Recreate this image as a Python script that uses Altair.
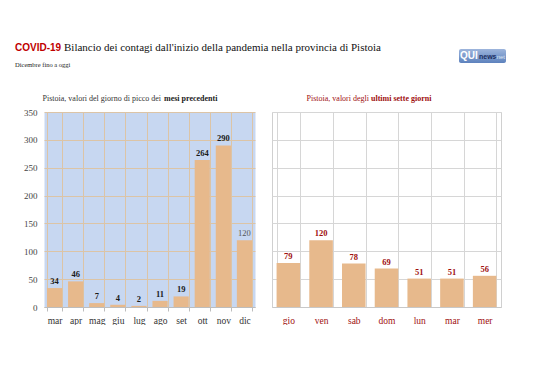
import altair as alt
import pandas as pd

# ---- data ----
mesi = ["mar", "apr", "mag", "giu", "lug", "ago", "set", "ott", "nov", "dic"]
picchi = [34, 46, 7, 4, 2, 11, 19, 264, 290, 120]
giorni = ["gio", "ven", "sab", "dom", "lun", "mar", "mer"]
casi = [79, 120, 78, 69, 51, 51, 56]
y_ticks = [0, 50, 100, 150, 200, 250, 300, 350]

SERIF = "Liberation Serif"
SANS = "Liberation Sans"
RED = "#a00f0f"
BAR = "#e7b98c"
BLUE_BG = "#c7d7f1"
TAN_GRID = "#dcc4a6"
GREY_GRID = "#d6d6d6"

df_l = pd.DataFrame({"mese": mesi, "casi": picchi})
df_r = pd.DataFrame({"giorno": giorni, "casi": casi})
one = pd.DataFrame({"k": [0]})

yscale = alt.Scale(domain=[0, 350], nice=False)
ttl = alt.Chart(one)

# left view origin on page: (43, 111); right view origin: (271, 111)

# ---- left panel ----
xl = alt.X("mese:N", sort=mesi,
           scale=alt.Scale(paddingInner=0.28, paddingOuter=0.14),
           axis=alt.Axis(title=None, labelAngle=0, labelFont=SERIF, labelFontSize=9.5,
                         labelColor="#333", grid=True, gridColor=TAN_GRID, tickBand="extent",
                         ticks=True, tickSize=4, tickColor="#bdbdbd", domainColor="#bdbdbd",
                         labelPadding=4))
yl = alt.Y("casi:Q", scale=yscale,
           axis=alt.Axis(title=None, values=y_ticks, labelFont=SERIF, labelFontSize=9,
                         labelColor="#444", grid=True, gridColor=TAN_GRID, ticks=False,
                         domain=False, labelPadding=7, minExtent=35, maxExtent=35))
bl = alt.Chart(df_l)
left = alt.layer(
    # invisible pin fixing the top of the page content
    ttl.mark_rule(strokeOpacity=0).encode(x=alt.value(0), y=alt.value(-103), y2=alt.value(-100)),
    bl.mark_bar(color=BAR).encode(x=xl, y=yl),
    bl.mark_text(dy=-7, font=SERIF, fontSize=8.5, fontWeight="bold", color="#1a1a1a").encode(
        x=xl, y=yl, text="casi:Q").transform_filter("datum.mese != 'dic'"),
    bl.mark_text(dy=-7, font=SERIF, fontSize=8.5, color="#555").encode(
        x=xl, y=yl, text="casi:Q").transform_filter("datum.mese == 'dic'"),
    ttl.mark_text(text="Pistoia, valori del giorno di picco dei", font=SERIF, fontSize=8,
                  color="#333", align="right", baseline="middle").encode(
        x=alt.value(117), y=alt.value(-13)),
    ttl.mark_text(text="mesi precedenti", font=SERIF, fontSize=8, fontWeight="bold",
                  color="#222", align="left", baseline="middle").encode(
        x=alt.value(120), y=alt.value(-13)),
    # header
    ttl.mark_text(text="COVID-19", font=SANS, fontSize=10, fontWeight="bold",
                  color="#c00000", align="left", baseline="middle").encode(
        x=alt.value(-29), y=alt.value(-64)),
    ttl.mark_text(text="Bilancio dei contagi dall'inizio della pandemia nella provincia di Pistoia",
                  font=SERIF, fontSize=11, color="#111", align="left", baseline="middle").encode(
        x=alt.value(20), y=alt.value(-64)),
    ttl.mark_text(text="Dicembre fino a oggi", font=SERIF, fontSize=6.5, color="#222",
                  align="left", baseline="middle").encode(x=alt.value(-29), y=alt.value(-47)),
).properties(width=211, height=195,
             view=alt.ViewBackground(fill=BLUE_BG, stroke="transparent"))

# ---- right panel ----
xr = alt.X("giorno:N", sort=giorni,
           scale=alt.Scale(paddingInner=0.28, paddingOuter=0.14),
           axis=alt.Axis(title=None, labelAngle=0, labelFont=SERIF, labelFontSize=9.5,
                         labelColor=RED, grid=True, gridColor=GREY_GRID, tickBand="extent",
                         ticks=False, domainColor="#c8c8c8", labelPadding=8))
yr = alt.Y("casi:Q", scale=yscale,
           axis=alt.Axis(title=None, values=y_ticks, labels=False, ticks=False, domain=False,
                         grid=True, gridColor=GREY_GRID, minExtent=0, maxExtent=0))
br = alt.Chart(df_r)
right = alt.layer(
    br.mark_bar(color=BAR).encode(x=xr, y=yr),
    br.mark_text(dy=-7, font=SERIF, fontSize=8.5, fontWeight="bold", color=RED).encode(
        x=xr, y=yr, text="casi:Q"),
    ttl.mark_text(text="Pistoia, valori degli", font=SERIF, fontSize=8,
                  color=RED, align="right", baseline="middle").encode(
        x=alt.value(97), y=alt.value(-13)),
    ttl.mark_text(text="ultimi sette giorni", font=SERIF, fontSize=8, fontWeight="bold",
                  color=RED, align="left", baseline="middle").encode(
        x=alt.value(99), y=alt.value(-13)),
    # logo
    ttl.mark_rect(cornerRadius=2,
                  color=alt.LinearGradient(gradient="linear",
                                           stops=[alt.GradientStop(color="#9db5dc", offset=0),
                                                  alt.GradientStop(color="#5d82bd", offset=1)],
                                           x1=0, x2=0, y1=0, y2=1)).encode(
        x=alt.value(187), x2=alt.value(234), y=alt.value(-63), y2=alt.value(-49)),
    ttl.mark_text(text="QUI", font=SANS, fontSize=10, fontWeight="bold", color="white",
                  align="left", baseline="middle").encode(x=alt.value(188), y=alt.value(-56)),
    ttl.mark_text(text="news", font=SANS, fontSize=7, fontWeight="bold", color="#1b2d5e",
                  align="left", baseline="middle").encode(x=alt.value(207), y=alt.value(-55)),
    ttl.mark_text(text=".net", font=SANS, fontSize=6, color="#dfe6f3",
                  align="left", baseline="middle").encode(x=alt.value(223), y=alt.value(-55)),
).properties(width=229, height=195,
             view=alt.ViewBackground(fill="white", stroke="#d0d0d0"))

chart = alt.hconcat(left, right, spacing=17, bounds="flush").properties(
    padding=0, background="white")

chart.save("out.html", embed_options={"renderer": "svg", "actions": False})
